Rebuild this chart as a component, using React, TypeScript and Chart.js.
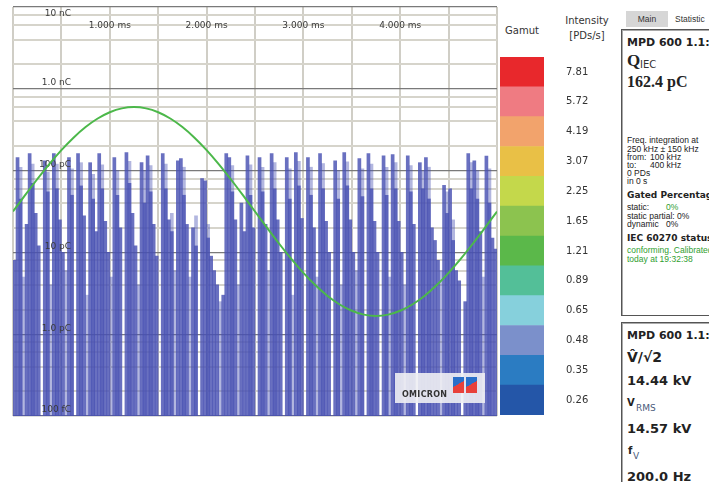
import React, { useEffect, useRef } from 'react';
import { Chart, registerables } from 'chart.js';

Chart.register(...registerables);

// ---- Data ----
// PD charge per phase bin (pC), 160 bins across one 5 ms cycle
const darkCharge = [
  8, 144, 45, 0, 22, 161, 70, 30, 12, 0,
  132, 55, 0, 161, 60, 25, 10, 0, 144, 50,
  0, 161, 65, 28, 0, 125, 45, 18, 161, 60,
  24, 10, 0, 144, 50, 20, 0, 166, 70, 30,
  12, 0, 125, 40, 152, 55, 22, 9, 0, 161,
  60, 25, 18, 0, 132, 140, 50, 22, 0, 20,
  12, 0, 80, 75, 15, 9, 6, 4, 0, 3,
  161, 144, 55, 25, 0, 40, 18, 152, 50, 20,
  0, 144, 55, 22, 0, 161, 60, 25, 10, 0,
  144, 45, 0, 166, 65, 26, 0, 144, 50, 20,
  0, 161, 60, 24, 10, 0, 132, 45, 0, 166,
  65, 25, 10, 0, 140, 48, 0, 161, 60, 24,
  10, 0, 152, 50, 0, 157, 60, 24, 10, 0,
  152, 55, 22, 0, 125, 60, 144, 45, 20, 14,
  8, 0, 66, 30, 60, 14, 6, 4.5, 0, 2.5,
  161, 60, 132, 45, 18, 0, 150, 40, 15, 11,
];
const lightCharge = [
  0, 0, 110, 5, 0, 0, 120, 0, 0, 0,
  0, 95, 4, 0, 120, 0, 0, 6, 0, 105,
  0, 0, 125, 0, 3, 0, 90, 0, 0, 118,
  0, 0, 5, 0, 100, 0, 0, 0, 130, 0,
  0, 4, 0, 100, 0, 115, 0, 0, 0, 0,
  120, 0, 30, 6, 0, 0, 110, 0, 5, 0,
  28, 0, 0, 0, 22, 0, 0, 0, 2.5, 0,
  0, 0, 115, 0, 4, 0, 0, 0, 118, 0,
  0, 0, 110, 0, 6, 0, 125, 0, 0, 0,
  0, 105, 3, 0, 130, 0, 0, 0, 110, 0,
  5, 0, 122, 0, 0, 0, 0, 100, 4, 0,
  128, 0, 0, 6, 0, 105, 0, 0, 120, 0,
  0, 0, 0, 110, 5, 0, 125, 0, 0, 4,
  0, 115, 0, 0, 0, 100, 0, 110, 0, 0,
  0, 6, 0, 55, 0, 25, 0, 0, 0, 0,
  0, 125, 0, 100, 0, 5, 0, 105, 0, 0,
];
const phaseBins = darkCharge.map((_, i) => String(i));

// Test voltage (kV) over one cycle
const sineTimesMs = [
  0, 0.125, 0.25, 0.375, 0.5, 0.625, 0.75, 0.875, 1, 1.125,
  1.25, 1.375, 1.5, 1.625, 1.75, 1.875, 2, 2.125, 2.25, 2.375,
  2.5, 2.625, 2.75, 2.875, 3, 3.125, 3.25, 3.375, 3.5, 3.625,
  3.75, 3.875, 4, 4.125, 4.25, 4.375, 4.5, 4.625, 4.75, 4.875, 5,
];
const sineKV = [
  0, 3.19, 6.31, 9.27, 12.0, 14.44, 16.52, 18.19, 19.42, 20.17,
  20.42, 20.17, 19.42, 18.19, 16.52, 14.44, 12.0, 9.27, 6.31, 3.19,
  0, -3.19, -6.31, -9.27, -12.0, -14.44, -16.52, -18.19, -19.42, -20.17,
  -20.42, -20.17, -19.42, -18.19, -16.52, -14.44, -12.0, -9.27, -6.31, -3.19, 0,
];

// Y axis (pC)
const yGridValues = [
  0.1, 0.2, 0.4, 0.6, 0.8,
  1, 2, 4, 6, 8,
  10, 20, 40, 60, 80,
  100, 200, 400, 600, 800,
  1000, 2000, 4000, 6000, 8000,
  10000,
];
const yLabelValues = [0.1, 1, 10, 100, 1000, 10000];
const yLabelTexts = ['100 fC', '1.0 pC', '10 pC', '100 pC', '1.0 nC', '10 nC'];

// X axis (ms)
const timeTickValues = [1, 2, 3, 4];
const timeTickLabels = ['1.000 ms', '2.000 ms', '3.000 ms', '4.000 ms'];

// Gamut (bottom -> top)
const gamutLabels = ['0.26', '0.35', '0.48', '0.65', '0.89', '1.21', '1.65', '2.25', '3.07', '4.19', '5.72', '7.81'];
const gamutColors = [
  '#2456a8', '#2b7cc2', '#7b90cb', '#86d0dc', '#53bf98', '#5bb84a',
  '#8cc34f', '#c4d84b', '#e9c046', '#f2a36c', '#ef7b82', '#e8282c',
];

const FONT = '"DejaVu Sans", Verdana, sans-serif';
const SMALL = '"Liberation Sans", Arial, sans-serif';

const labelPlugin = {
  id: 'innerLabels',
  afterDatasetDraw(chart: any, args: any) {
    if (args.index !== 1) return;
    const ctx = chart.ctx;
    const area = chart.chartArea;
    const ys = chart.scales.y;
    const xs = chart.scales.xt;
    ctx.save();
    ctx.font = '9px ' + FONT;
    ctx.fillStyle = '#3a3a3a';
    ctx.textBaseline = 'middle';
    ctx.textAlign = 'right';
    yLabelValues.forEach((v, i) => {
      const py = Math.max(ys.getPixelForValue(v) - 6, area.top + 7);
      ctx.fillText(yLabelTexts[i], area.left + 58, py);
    });
    ctx.textAlign = 'center';
    timeTickValues.forEach((v, i) => {
      ctx.fillText(timeTickLabels[i], xs.getPixelForValue(v), area.top + 19);
    });
    ctx.restore();
  },
};

function MainChart() {
  const ref = useRef<HTMLCanvasElement>(null);
  useEffect(() => {
    if (!ref.current) return;
    const chart = new Chart(ref.current, {
      type: 'bar',
      data: {
        labels: phaseBins,
        datasets: [
          {
            type: 'bar',
            data: lightCharge,
            backgroundColor: 'rgba(72,80,178,0.42)',
            borderWidth: 0,
            barPercentage: 1,
            categoryPercentage: 1,
            grouped: false,
            order: 3,
          } as any,
          {
            type: 'bar',
            data: darkCharge,
            backgroundColor: 'rgba(72,80,178,0.82)',
            borderWidth: 0,
            barPercentage: 1,
            categoryPercentage: 1,
            grouped: false,
            order: 2,
          } as any,
          {
            type: 'line',
            data: sineTimesMs.map((t, i) => ({ x: t, y: sineKV[i] })),
            xAxisID: 'xt',
            yAxisID: 'yv',
            borderColor: '#4cb84a',
            borderWidth: 2,
            pointRadius: 0,
            tension: 0.3,
            order: 1,
          } as any,
        ],
      },
      options: {
        responsive: false,
        animation: false,
        layout: { padding: { left: 13, top: 7, right: 3, bottom: 4 } },
        plugins: { legend: { display: false }, tooltip: { enabled: false } },
        scales: {
          x: { type: 'category', display: false, offset: true },
          xt: {
            type: 'linear',
            position: 'bottom',
            min: 0,
            max: 5,
            offset: false,
            ticks: { display: false, stepSize: 0.5 },
            grid: { offset: false, drawTicks: false, color: '#d0cec6', lineWidth: 2 },
            border: { display: false },
          },
          y: {
            type: 'logarithmic',
            position: 'left',
            min: 0.1,
            max: 10000,
            afterBuildTicks: (s: any) => {
              s.ticks = yGridValues.map((v) => ({ value: v }));
            },
            ticks: { display: false },
            grid: {
              drawTicks: false,
              color: (c: any) => (yLabelValues.includes(c.tick && c.tick.value) ? '#7a7a7a' : '#d6d4cb'),
              lineWidth: (c: any) => (yLabelValues.includes(c.tick && c.tick.value) ? 1.3 : 2),
            },
            border: { display: false },
          },
          yv: { type: 'linear', display: false, min: -40, max: 40 },
        },
      } as any,
      plugins: [labelPlugin],
    });
    return () => chart.destroy();
  }, []);
  return <canvas ref={ref} width={500} height={420} style={{ position: 'absolute', left: 0, top: 0, width: 500, height: 420 }} />;
}

function GamutChart() {
  const ref = useRef<HTMLCanvasElement>(null);
  useEffect(() => {
    if (!ref.current) return;
    const chart = new Chart(ref.current, {
      type: 'bar',
      data: {
        labels: ['Gamut'],
        datasets: gamutColors.map((c) => ({
          data: [1],
          backgroundColor: c,
          borderWidth: 0,
          barPercentage: 1,
          categoryPercentage: 1,
        })),
      },
      options: {
        responsive: false,
        animation: false,
        layout: { padding: 0 },
        plugins: { legend: { display: false }, tooltip: { enabled: false } },
        scales: {
          x: { stacked: true, display: false },
          y: {
            stacked: true,
            position: 'right',
            min: 0,
            max: 12,
            afterBuildTicks: (s: any) => {
              s.ticks = gamutLabels.map((_, i) => ({ value: i + 0.5 }));
            },
            afterFit: (s: any) => {
              s.width = 65;
              s.paddingTop = 0;
              s.paddingBottom = 0;
            },
            ticks: {
              autoSkip: false,
              padding: 14,
              color: '#333',
              font: { family: FONT, size: 10 },
              callback: (_v: any, i: number) => gamutLabels[i],
            },
            grid: { display: false },
            border: { display: false },
          },
        },
      } as any,
    });
    return () => chart.destroy();
  }, []);
  return <canvas ref={ref} width={109} height={358} style={{ position: 'absolute', left: 500, top: 57, width: 109, height: 358 }} />;
}

function T(props: { x: number; y: number; size: number; bold?: boolean; color?: string; family?: string; children: React.ReactNode; center?: boolean }) {
  const lh = Math.round(props.size * 1.25);
  return (
    <span
      style={{
        position: 'absolute',
        left: props.x,
        top: props.y - lh / 2,
        fontSize: props.size,
        lineHeight: lh + 'px',
        fontWeight: props.bold ? 'bold' : 'normal',
        color: props.color || '#222',
        fontFamily: props.family || FONT,
        whiteSpace: 'pre',
        transform: props.center ? 'translateX(-50%)' : undefined,
      }}
    >
      {props.children}
    </span>
  );
}

const SERIF = '"Liberation Serif", "DejaVu Serif", serif';
const GREEN = '#2f9e2f';

export default function App() {
  return (
    <div style={{ position: 'absolute', left: 0, top: 0, width: 709, height: 482, overflow: 'hidden', background: '#fff', fontFamily: FONT }}>
      <MainChart />
      {/* logo box */}
      <div style={{ position: 'absolute', left: 395, top: 373, width: 90, height: 30, background: 'rgba(238,238,243,0.9)' }}>
        <span style={{ position: 'absolute', left: 7, top: 17, fontSize: 8, fontWeight: 'bold', color: '#333', fontFamily: FONT, letterSpacing: 0.3 }}>OMICRON</span>
        <div style={{ position: 'absolute', left: 58, top: 4, width: 11, height: 16, background: 'linear-gradient(150deg, #2a6fc9 45%, #e8403a 46%)' }} />
        <div style={{ position: 'absolute', left: 71, top: 4, width: 11, height: 16, background: 'linear-gradient(150deg, #2a6fc9 45%, #e8403a 46%)' }} />
      </div>

      {/* Gamut header */}
      <T x={522} y={30} size={10} center color="#333">Gamut</T>
      <T x={587} y={20} size={10} center color="#333">Intensity</T>
      <T x={587} y={35} size={10} center color="#333">[PDs/s]</T>
      <GamutChart />

      {/* Right panel tabs */}
      <div style={{ position: 'absolute', left: 626, top: 11, width: 42, height: 16, background: '#d6d6d6' }} />
      <T x={647} y={19} size={8.5} center color="#333" family={SMALL}>Main</T>
      <T x={675} y={19} size={8.5} color="#333" family={SMALL}>Statistic</T>

      {/* Box 1 */}
      <div style={{ position: 'absolute', left: 621, top: 29, width: 120, height: 287, border: '1px solid #555', boxShadow: 'inset 1px 1px 0 #aaa', boxSizing: 'border-box' }} />
      <T x={627} y={43} size={11} bold>MPD 600 1.1:</T>
      <T x={627} y={60} size={17} bold family={SERIF}>Q</T>
      <T x={640} y={64} size={10} color="#333">IEC</T>
      <T x={627} y={82} size={16} bold family={SERIF}>162.4 pC</T>
      <T x={627} y={140} size={8.5} family={SMALL}>Freq. integration at</T>
      <T x={627} y={149} size={8.5} family={SMALL}>250 kHz ± 150 kHz</T>
      <T x={627} y={157} size={8.5} family={SMALL}>from:</T>
      <T x={650} y={157} size={8.5} family={SMALL}>100 kHz</T>
      <T x={627} y={165} size={8.5} family={SMALL}>to:</T>
      <T x={650} y={165} size={8.5} family={SMALL}>400 kHz</T>
      <T x={627} y={173} size={8.5} family={SMALL}>0 PDs</T>
      <T x={627} y={181} size={8.5} family={SMALL}>in 0 s</T>
      <T x={627} y={195} size={9} bold>Gated Percentage</T>
      <T x={627} y={207} size={8.5} family={SMALL}>static:</T>
      <T x={666} y={207} size={8.5} color={GREEN} family={SMALL}>0%</T>
      <T x={627} y={216} size={8.5} family={SMALL}>static partial: 0%</T>
      <T x={627} y={224} size={8.5} family={SMALL}>dynamic</T>
      <T x={666} y={224} size={8.5} family={SMALL}>0%</T>
      <T x={627} y={238} size={9} bold>IEC 60270 status</T>
      <T x={627} y={250} size={8.5} color={GREEN} family={SMALL}>conforming. Calibrated</T>
      <T x={627} y={259} size={8.5} color={GREEN} family={SMALL}>today at 19:32:38</T>

      {/* Box 2 */}
      <div style={{ position: 'absolute', left: 621, top: 322, width: 120, height: 200, border: '1px solid #555', boxShadow: 'inset 1px 1px 0 #aaa', boxSizing: 'border-box' }} />
      <T x={627} y={336} size={11} bold>MPD 600 1.1:</T>
      <T x={627} y={357} size={14} bold>{'V\u0302/\u221A2'}</T>
      <T x={627} y={381} size={13} bold>14.44 kV</T>
      <T x={627} y={402} size={10} bold>V</T>
      <T x={636} y={408} size={9} color="#4a5a7a">RMS</T>
      <T x={627} y={429} size={13} bold>14.57 kV</T>
      <T x={628} y={450} size={10} bold>f</T>
      <T x={633} y={456} size={9} color="#4a5a7a">V</T>
      <T x={627} y={477} size={13} bold>200.0 Hz</T>
    </div>
  );
}
